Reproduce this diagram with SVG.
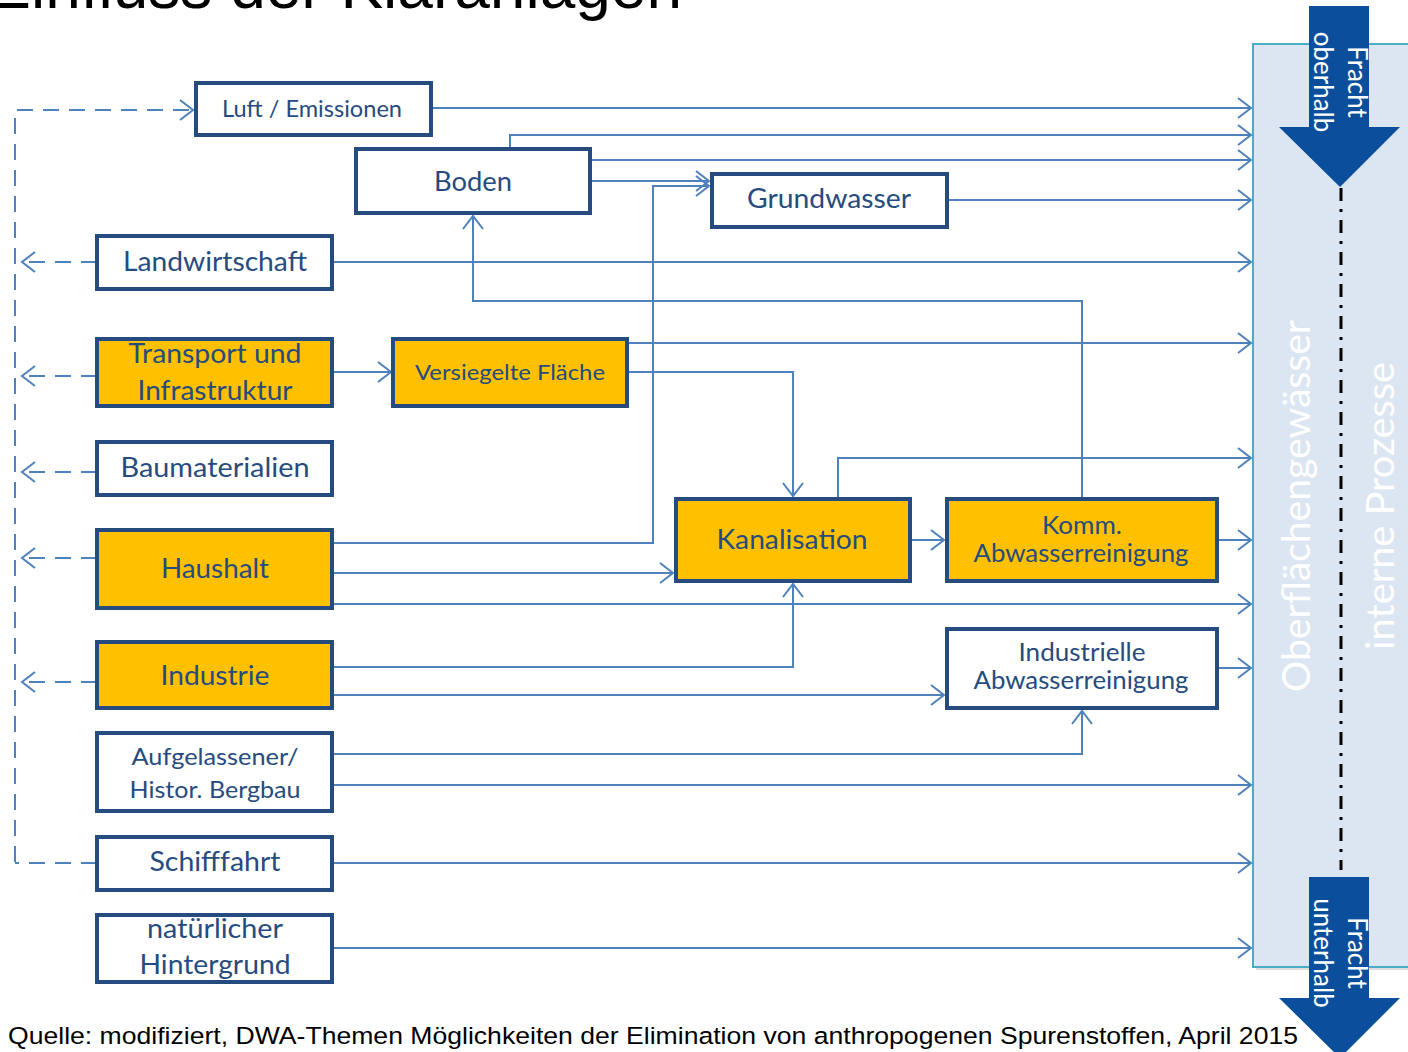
<svg xmlns="http://www.w3.org/2000/svg" width="1408" height="1052" viewBox="0 0 1408 1052">
<defs>
<style>
.box{stroke:#264b7e;stroke-width:4;}
.w{fill:#ffffff;}
.o{fill:#ffc000;}
.t{font-family:Lato,"Open Sans",sans-serif;fill:#264b7e;text-anchor:middle;}
.c{fill:none;stroke:#4f81bd;stroke-width:2;}
.d{fill:none;stroke:#4f81bd;stroke-width:2;stroke-dasharray:16 10;}
.wt{font-family:Lato,"Open Sans",sans-serif;fill:#ffffff;text-anchor:middle;}
</style>
<marker id="ah" markerWidth="16" markerHeight="22" refX="14" refY="11" orient="auto" markerUnits="userSpaceOnUse">
<path d="M1,1 L14,11 L1,21" fill="none" stroke="#4f81bd" stroke-width="2"/>
</marker>
</defs>
<rect width="1408" height="1052" fill="#ffffff"/>
<text x="682" y="8" font-family="'Liberation Sans',Arial,sans-serif" font-size="64" text-anchor="end" fill="#000">Einfluss der Kläranlagen</text>

<g id="panel">
<rect x="1256" y="47" width="160" height="923" fill="#c8c8c8" opacity="0.6"/>
<rect x="1253" y="44" width="160" height="923" fill="#dce6f2" stroke="#4bacc6" stroke-width="2"/>
<text class="wt" font-size="39" transform="translate(1310,506) rotate(-90)" textLength="372" lengthAdjust="spacingAndGlyphs">Oberflächengewässer</text>
<text class="wt" font-size="39" transform="translate(1394,506) rotate(-90)" textLength="288" lengthAdjust="spacingAndGlyphs">interne Prozesse</text>
<line x1="1341" y1="188" x2="1341" y2="870" stroke="#000" stroke-width="3" stroke-dasharray="13 8 3 8"/>
</g>

<g id="fracht-oberhalb">
<path d="M1309,6 H1369 V127 H1400 L1340,187 L1279,127 H1309 Z" fill="#0b4f9c"/>
<text class="wt" font-size="26" transform="translate(1348,82) rotate(90)">Fracht</text>
<text class="wt" font-size="26" transform="translate(1314,82) rotate(90)">oberhalb</text>
</g>
<g id="fracht-unterhalb">
<path d="M1309,877 H1369 V998 H1400 L1340,1058 L1279,998 H1309 Z" fill="#0b4f9c"/>
<text class="wt" font-size="26" transform="translate(1348,953) rotate(90)">Fracht</text>
<text class="wt" font-size="26" transform="translate(1314,953) rotate(90)">unterhalb</text>
</g>

<g id="connectors">
<path class="c" d="M431,108 H1251" marker-end="url(#ah)"/>
<path class="c" d="M510,149 V135 H1251" marker-end="url(#ah)"/>
<path class="c" d="M590,160 H1251" marker-end="url(#ah)"/>
<path class="c" d="M590,181 H709" marker-end="url(#ah)"/>
<path class="c" d="M332,543 H653 V186 H709" marker-end="url(#ah)"/>
<path class="c" d="M947,200 H1251" marker-end="url(#ah)"/>
<path class="c" d="M332,262 H1251" marker-end="url(#ah)"/>
<path class="c" d="M1082,499 V301 H473 V216" marker-end="url(#ah)"/>
<path class="c" d="M332,372 H391" marker-end="url(#ah)"/>
<path class="c" d="M627,343 H1251" marker-end="url(#ah)"/>
<path class="c" d="M627,372 H793 V496" marker-end="url(#ah)"/>
<path class="c" d="M838,499 V458 H1251" marker-end="url(#ah)"/>
<path class="c" d="M910,540 H944" marker-end="url(#ah)"/>
<path class="c" d="M1217,540 H1251" marker-end="url(#ah)"/>
<path class="c" d="M332,573 H673" marker-end="url(#ah)"/>
<path class="c" d="M332,604 H1251" marker-end="url(#ah)"/>
<path class="c" d="M332,667 H793 V584" marker-end="url(#ah)"/>
<path class="c" d="M332,695 H944" marker-end="url(#ah)"/>
<path class="c" d="M1217,668 H1251" marker-end="url(#ah)"/>
<path class="c" d="M332,754 H1082 V711" marker-end="url(#ah)"/>
<path class="c" d="M332,785 H1251" marker-end="url(#ah)"/>
<path class="c" d="M332,863 H1251" marker-end="url(#ah)"/>
<path class="c" d="M332,948 H1251" marker-end="url(#ah)"/>
<path class="d" d="M15,862 V110 H193" marker-end="url(#ah)"/>
<path class="d" d="M97,262 H22" marker-end="url(#ah)"/>
<path class="d" d="M97,376 H22" marker-end="url(#ah)"/>
<path class="d" d="M97,472 H22" marker-end="url(#ah)"/>
<path class="d" d="M97,558 H22" marker-end="url(#ah)"/>
<path class="d" d="M97,682 H22" marker-end="url(#ah)"/>
<path class="d" d="M97,863 H15"/>
</g>

<g id="luft"><rect class="box w" x="196" y="83" width="235" height="52"/><text class="t" x="312" y="117" font-size="23" textLength="180" lengthAdjust="spacingAndGlyphs">Luft / Emissionen</text></g>
<g id="boden"><rect class="box w" x="356" y="149" width="234" height="64"/><text class="t" x="473" y="191" font-size="26" textLength="78" lengthAdjust="spacingAndGlyphs">Boden</text></g>
<g id="grundwasser"><rect class="box w" x="712" y="174" width="235" height="53"/><text class="t" x="829" y="208" font-size="26" textLength="164" lengthAdjust="spacingAndGlyphs">Grundwasser</text></g>
<g id="landwirtschaft"><rect class="box w" x="97" y="236" width="235" height="53"/><text class="t" x="215" y="271" font-size="26" textLength="184" lengthAdjust="spacingAndGlyphs">Landwirtschaft</text></g>
<g id="transport"><rect class="box o" x="97" y="339" width="235" height="67"/><text class="t" x="215" y="363" font-size="26" textLength="173" lengthAdjust="spacingAndGlyphs">Transport und</text><text class="t" x="215" y="400" font-size="26" textLength="155" lengthAdjust="spacingAndGlyphs">Infrastruktur</text></g>
<g id="versiegelt"><rect class="box o" x="393" y="339" width="234" height="67"/><text class="t" x="510" y="380" font-size="22" textLength="190" lengthAdjust="spacingAndGlyphs">Versiegelte Fläche</text></g>
<g id="baumaterialien"><rect class="box w" x="97" y="442" width="235" height="53"/><text class="t" x="215" y="477" font-size="26" textLength="189" lengthAdjust="spacingAndGlyphs">Baumaterialien</text></g>
<g id="haushalt"><rect class="box o" x="97" y="530" width="235" height="78"/><text class="t" x="215" y="578" font-size="26" textLength="108" lengthAdjust="spacingAndGlyphs">Haushalt</text></g>
<g id="kanalisation"><rect class="box o" x="676" y="499" width="234" height="82"/><text class="t" x="792" y="549" font-size="26" textLength="151" lengthAdjust="spacingAndGlyphs">Kanalisation</text></g>
<g id="komm"><rect class="box o" x="947" y="499" width="270" height="82"/><text class="t" x="1082" y="534" font-size="25" textLength="80" lengthAdjust="spacingAndGlyphs">Komm.</text><text class="t" x="1081" y="562" font-size="25" textLength="215" lengthAdjust="spacingAndGlyphs">Abwasserreinigung</text></g>
<g id="industrie"><rect class="box o" x="97" y="642" width="235" height="66"/><text class="t" x="215" y="685" font-size="26" textLength="109" lengthAdjust="spacingAndGlyphs">Industrie</text></g>
<g id="indabw"><rect class="box w" x="947" y="629" width="270" height="79"/><text class="t" x="1082" y="661" font-size="25" textLength="127" lengthAdjust="spacingAndGlyphs">Industrielle</text><text class="t" x="1081" y="689" font-size="25" textLength="215" lengthAdjust="spacingAndGlyphs">Abwasserreinigung</text></g>
<g id="bergbau"><rect class="box w" x="97" y="733" width="235" height="78"/><text class="t" x="215" y="765" font-size="24" textLength="167" lengthAdjust="spacingAndGlyphs">Aufgelassener/</text><text class="t" x="215" y="798" font-size="24" textLength="171" lengthAdjust="spacingAndGlyphs">Histor. Bergbau</text></g>
<g id="schifffahrt"><rect class="box w" x="97" y="837" width="235" height="53"/><text class="t" x="215" y="871" font-size="26" textLength="131" lengthAdjust="spacingAndGlyphs">Schifffahrt</text></g>
<g id="hintergrund"><rect class="box w" x="97" y="915" width="235" height="67"/><text class="t" x="215" y="938" font-size="26" textLength="136" lengthAdjust="spacingAndGlyphs">natürlicher</text><text class="t" x="215" y="974" font-size="26" textLength="151" lengthAdjust="spacingAndGlyphs">Hintergrund</text></g>

<text x="8" y="1044" font-family="'Liberation Sans',Arial,sans-serif" font-size="24.5" fill="#000" textLength="1290" lengthAdjust="spacingAndGlyphs">Quelle: modifiziert, DWA-Themen Möglichkeiten der Elimination von anthropogenen Spurenstoffen, April 2015</text>
</svg>
